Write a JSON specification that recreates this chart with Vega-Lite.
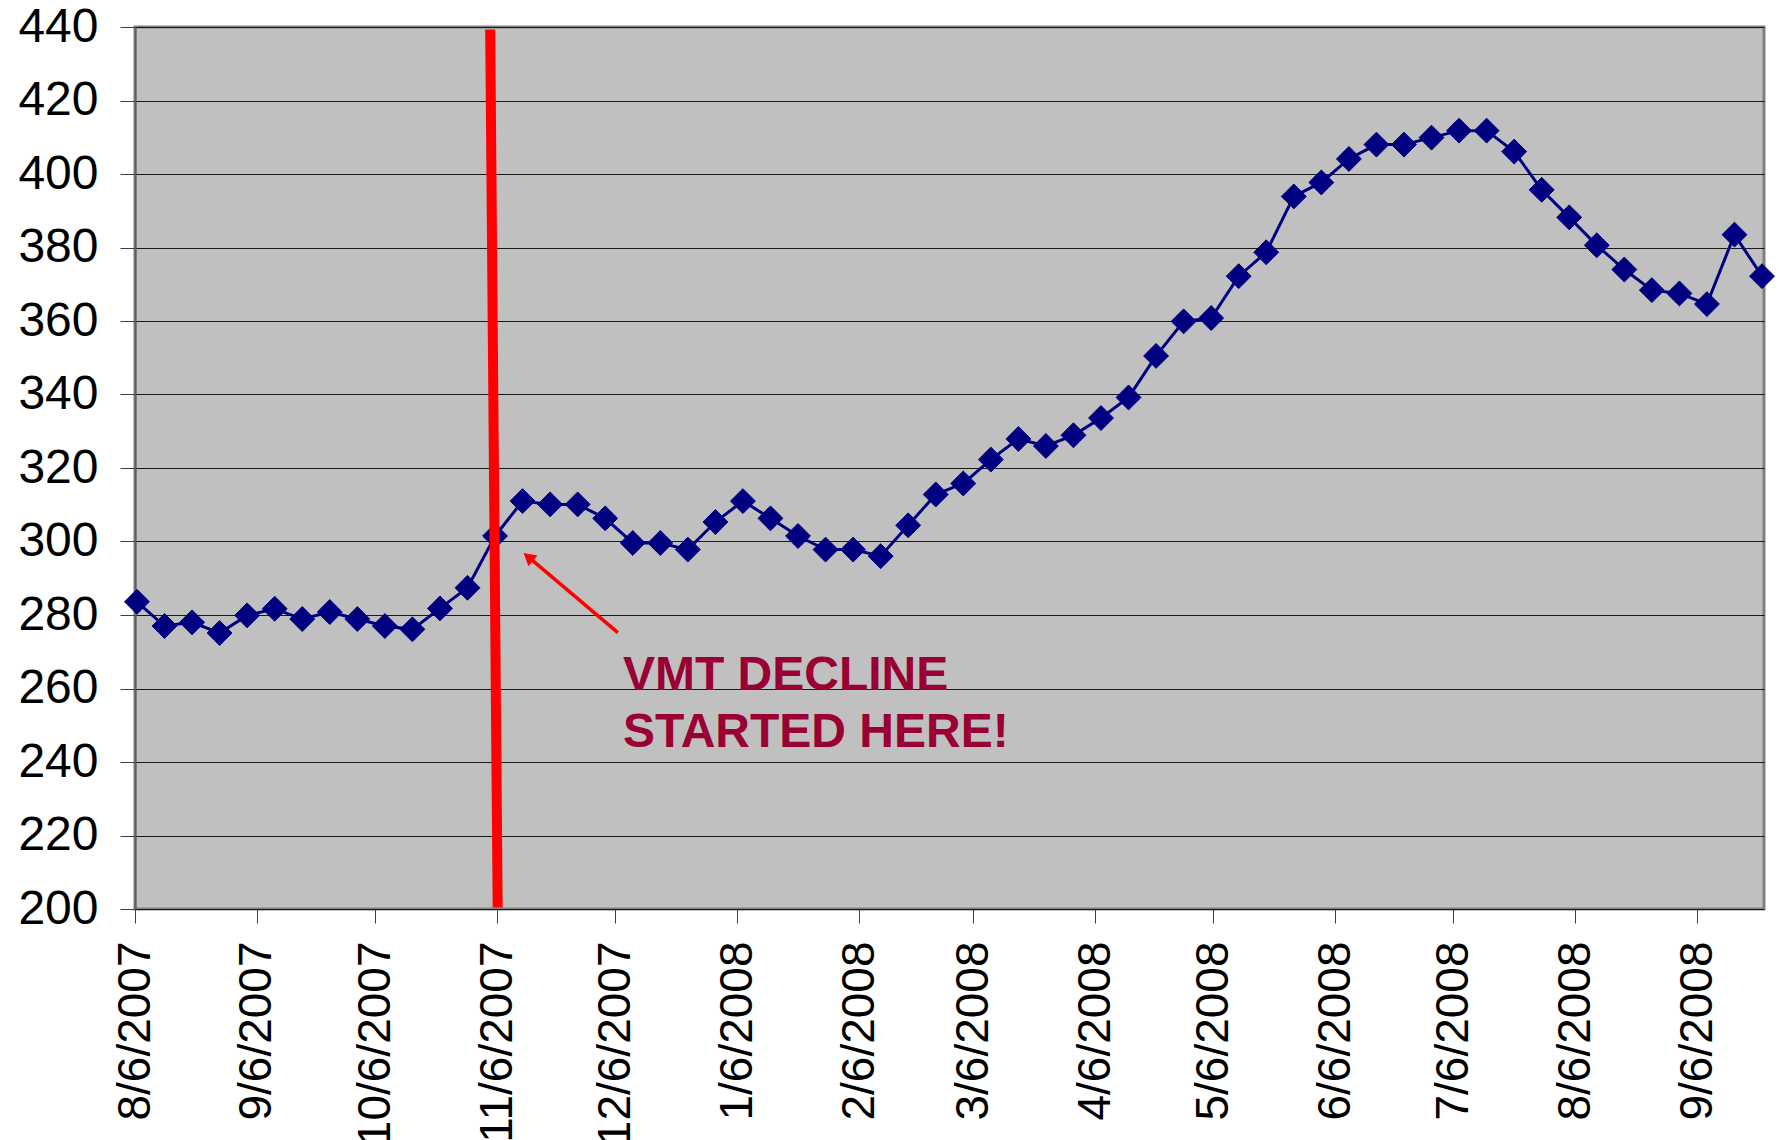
{
  "$schema": "https://vega.github.io/schema/vega-lite/v6.json",
  "width": 1629,
  "height": 882,
  "autosize": {"type": "none"},
  "padding": {"left": 135, "top": 27, "right": 15, "bottom": 231},
  "background": "white",
  "config": {
    "font": "Liberation Sans",
    "view": {"fill": "#C0C0C0", "stroke": "#808080", "strokeWidth": 3}
  },
  "datasets": {
    "vmt": [
      {"date": "2007-08-06", "value": 283.6},
      {"date": "2007-08-13", "value": 277.0},
      {"date": "2007-08-20", "value": 278.0},
      {"date": "2007-08-27", "value": 275.1},
      {"date": "2007-09-03", "value": 279.9},
      {"date": "2007-09-10", "value": 281.7},
      {"date": "2007-09-17", "value": 278.9},
      {"date": "2007-09-24", "value": 280.8},
      {"date": "2007-10-01", "value": 278.9},
      {"date": "2007-10-08", "value": 277.0},
      {"date": "2007-10-15", "value": 276.1},
      {"date": "2007-10-22", "value": 281.8},
      {"date": "2007-10-29", "value": 287.4},
      {"date": "2007-11-05", "value": 301.5},
      {"date": "2007-11-12", "value": 311.0},
      {"date": "2007-11-19", "value": 310.1},
      {"date": "2007-11-26", "value": 310.1},
      {"date": "2007-12-03", "value": 306.3},
      {"date": "2007-12-10", "value": 299.6},
      {"date": "2007-12-17", "value": 299.6},
      {"date": "2007-12-24", "value": 297.8},
      {"date": "2007-12-31", "value": 305.3},
      {"date": "2008-01-07", "value": 311.0},
      {"date": "2008-01-14", "value": 306.3},
      {"date": "2008-01-21", "value": 301.5},
      {"date": "2008-01-28", "value": 297.8},
      {"date": "2008-02-04", "value": 297.8},
      {"date": "2008-02-11", "value": 296.0},
      {"date": "2008-02-18", "value": 304.4},
      {"date": "2008-02-25", "value": 312.8},
      {"date": "2008-03-03", "value": 315.8},
      {"date": "2008-03-10", "value": 322.3},
      {"date": "2008-03-17", "value": 327.9},
      {"date": "2008-03-24", "value": 326.0},
      {"date": "2008-03-31", "value": 328.9},
      {"date": "2008-04-07", "value": 333.6},
      {"date": "2008-04-14", "value": 339.2},
      {"date": "2008-04-21", "value": 350.5},
      {"date": "2008-04-28", "value": 359.9},
      {"date": "2008-05-05", "value": 360.8},
      {"date": "2008-05-12", "value": 372.2},
      {"date": "2008-05-19", "value": 378.7},
      {"date": "2008-05-26", "value": 393.9},
      {"date": "2008-06-02", "value": 397.7},
      {"date": "2008-06-09", "value": 404.1},
      {"date": "2008-06-16", "value": 408.0},
      {"date": "2008-06-23", "value": 408.0},
      {"date": "2008-06-30", "value": 409.9},
      {"date": "2008-07-07", "value": 411.8},
      {"date": "2008-07-14", "value": 411.8},
      {"date": "2008-07-21", "value": 406.1},
      {"date": "2008-07-28", "value": 395.7},
      {"date": "2008-08-04", "value": 388.2},
      {"date": "2008-08-11", "value": 380.6},
      {"date": "2008-08-18", "value": 374.0},
      {"date": "2008-08-25", "value": 368.4},
      {"date": "2008-09-01", "value": 367.5},
      {"date": "2008-09-08", "value": 364.6},
      {"date": "2008-09-15", "value": 383.5},
      {"date": "2008-09-22", "value": 372.2}
    ],
    "redline": [
      {"x": "2007-11-04T06:30:00Z", "x2": "2007-11-06T04:00:00Z", "y": 439.3, "y2": 200.4}
    ],
    "arrow": [
      {"x": "2007-12-06T17:17:00Z", "y": 275.2, "x2": "2007-11-13T22:50:00Z", "y2": 295.8}
    ],
    "arrowhead": [
      {"x": "2007-11-13T22:50:00Z", "y": 295.8}
    ],
    "label": [
      {"x": "2007-12-08T00:00:00Z", "y": 259.7, "text": "VMT DECLINE"},
      {"x": "2007-12-08T00:00:00Z", "y": 244.1, "text": "STARTED HERE!"}
    ]
  },
  "layer": [
    {
      "data": {"name": "vmt"},
      "mark": {"type": "line", "color": "#000080", "strokeWidth": 3},
      "encoding": {
        "x": {
          "field": "date",
          "type": "temporal",
          "timeUnit": "utcyearmonthdate",
          "bandPosition": 0.5,
          "scale": {
            "type": "utc",
            "domain": [
              {"year": 2007, "month": 8, "date": 6, "utc": true},
              {"year": 2008, "month": 9, "date": 23, "utc": true}
            ],
            "nice": false
          },
          "axis": {
            "title": null,
            "values": [
              {"year": 2007, "month": 8, "date": 6, "utc": true},
              {"year": 2007, "month": 9, "date": 6, "utc": true},
              {"year": 2007, "month": 10, "date": 6, "utc": true},
              {"year": 2007, "month": 11, "date": 6, "utc": true},
              {"year": 2007, "month": 12, "date": 6, "utc": true},
              {"year": 2008, "month": 1, "date": 6, "utc": true},
              {"year": 2008, "month": 2, "date": 6, "utc": true},
              {"year": 2008, "month": 3, "date": 6, "utc": true},
              {"year": 2008, "month": 4, "date": 6, "utc": true},
              {"year": 2008, "month": 5, "date": 6, "utc": true},
              {"year": 2008, "month": 6, "date": 6, "utc": true},
              {"year": 2008, "month": 7, "date": 6, "utc": true},
              {"year": 2008, "month": 8, "date": 6, "utc": true},
              {"year": 2008, "month": 9, "date": 6, "utc": true}
            ],
            "labelExpr": "utcFormat(datum.value, '%-m/%-d/%Y')",
            "labelAngle": 270,
            "labelAlign": "right",
            "labelBaseline": "middle",
            "labelFontSize": 46,
            "labelColor": "#000000",
            "labelPadding": 18,
            "labelLimit": 0,
            "labelOverlap": false,
            "labelBound": false,
            "labelFlush": false,
            "tickSize": 14,
            "tickColor": "#404040",
            "tickWidth": 1,
            "domain": false,
            "grid": false
          }
        },
        "y": {
          "field": "value",
          "type": "quantitative",
          "scale": {"domain": [200, 440], "nice": false, "zero": false},
          "axis": {
            "title": null,
            "values": [200, 220, 240, 260, 280, 300, 320, 340, 360, 380, 400, 420, 440],
            "labelFontSize": 48,
            "labelColor": "#000000",
            "labelPadding": 22,
            "labelLimit": 0,
            "tickSize": 15,
            "tickColor": "#404040",
            "tickWidth": 1,
            "domain": true,
            "domainColor": "#606060",
            "domainWidth": 2,
            "grid": true,
            "gridColor": "#1a1a1a",
            "gridWidth": 1,
            "labelFlush": false,
            "labelOverlap": false,
            "labelBound": false
          }
        }
      }
    },
    {
      "data": {"name": "vmt"},
      "mark": {"type": "point", "shape": "diamond", "filled": true, "size": 620, "color": "#000080", "opacity": 1, "stroke": "#000080", "strokeWidth": 1},
      "encoding": {
        "x": {"field": "date", "type": "temporal", "timeUnit": "utcyearmonthdate", "bandPosition": 0.5, "scale": {"type": "utc"}},
        "y": {"field": "value", "type": "quantitative"}
      }
    },
    {
      "data": {"name": "redline"},
      "mark": {"type": "rule", "color": "#FF0000", "strokeWidth": 10, "strokeCap": "butt"},
      "encoding": {
        "x": {"field": "x", "type": "temporal", "scale": {"type": "utc"}},
        "x2": {"field": "x2"},
        "y": {"field": "y", "type": "quantitative"},
        "y2": {"field": "y2"}
      }
    },
    {
      "data": {"name": "arrow"},
      "mark": {"type": "rule", "color": "#FF0000", "strokeWidth": 3.5, "strokeCap": "butt"},
      "encoding": {
        "x": {"field": "x", "type": "temporal", "scale": {"type": "utc"}},
        "x2": {"field": "x2"},
        "y": {"field": "y", "type": "quantitative"},
        "y2": {"field": "y2"}
      }
    },
    {
      "data": {"name": "arrowhead"},
      "mark": {"type": "point", "shape": "triangle-up", "filled": true, "size": 200, "color": "#FF0000", "opacity": 1, "angle": 310},
      "encoding": {
        "x": {"field": "x", "type": "temporal", "scale": {"type": "utc"}},
        "y": {"field": "y", "type": "quantitative"}
      }
    },
    {
      "data": {"name": "label"},
      "mark": {"type": "text", "align": "left", "baseline": "alphabetic", "fontSize": 48, "fontWeight": "bold", "font": "Liberation Sans", "color": "#990033"},
      "encoding": {
        "x": {"field": "x", "type": "temporal", "scale": {"type": "utc"}},
        "y": {"field": "y", "type": "quantitative"},
        "text": {"field": "text"}
      }
    }
  ]
}
